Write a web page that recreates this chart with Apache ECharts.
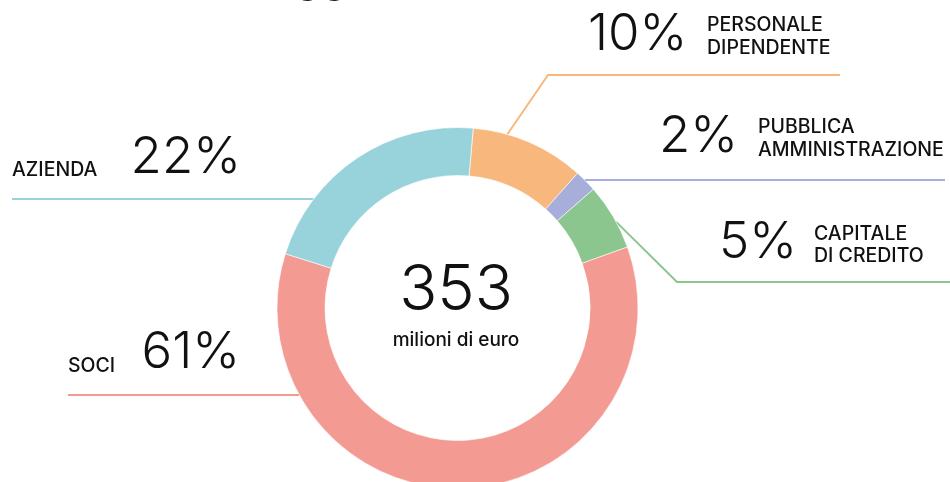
<!DOCTYPE html>
<html><head><meta charset="utf-8">
<script src="https://cdn.jsdelivr.net/npm/echarts@6/dist/echarts.min.js"></script>
<style>html,body{margin:0;padding:0;background:#fff;overflow:hidden}#c{width:950px;height:482px}</style>
</head><body><div id="c"></div>
<script>
// ---- data ----
const categories = ['PERSONALE\nDIPENDENTE', 'PUBBLICA\nAMMINISTRAZIONE', 'CAPITALE\nDI CREDITO', 'SOCI', 'AZIENDA'];
const values = [36, 7, 21, 213, 76];            // milioni di euro
const percentLabels = ['10%', '2%', '5%', '61%', '22%'];
const totalLabel = '353';
const totalUnit = 'milioni di euro';
const topLabel = '33';

// ---- style / layout ----
const colors = ['#f8b87d', '#a6aed9', '#8cc68f', '#f39a93', '#98d3dc'];
const CX = 457.5, CY = 308, R_IN = 132.5, R_OUT = 180.5;
const FONT = 'Inter';
const layouts = [
  {side: 'right', num: [588, 34.5],  cat: [707, 36.4],  lineY: 75,  startAngle: 16,   bend: [548, 75],  end: 840},
  {side: 'right', num: [659, 136.5], cat: [758, 138.8], lineY: 180, end: 945},
  {side: 'right', num: [719, 242.5], cat: [814, 245],   lineY: 282, startAngle: 61.5, bend: [677, 282], end: 960},
  {side: 'left',  num: [240, 353],   cat: [68, 366.5],  lineY: 395, end: 68},
  {side: 'left',  num: [241, 157.5], cat: [12, 170.5],  lineY: 199, end: 12}
];

function linePoints(L) {
  if (L.startAngle != null) {
    const a = L.startAngle * Math.PI / 180;
    const p0 = [CX + R_OUT * Math.sin(a), CY - R_OUT * Math.cos(a)];
    return [p0, L.bend, [L.end, L.lineY]];
  }
  const dx = Math.sqrt(R_OUT * R_OUT - (L.lineY - CY) * (L.lineY - CY));
  const x0 = L.side === 'right' ? CX + dx : CX - dx;
  const xm = (x0 + L.end) / 2;
  return [[x0, L.lineY], [xm, L.lineY], [L.end, L.lineY]];
}

const data = categories.map((c, i) => ({name: c, value: values[i], itemStyle: {color: colors[i]}}));

const chart = echarts.init(document.getElementById('c'), null, {renderer: 'canvas'});
chart.setOption({
  animation: false,
  graphic: [
    {type: 'text', x: 456, y: 291.5, style: {text: totalLabel, font: '300 63px Inter', fill: '#111', textAlign: 'center', textVerticalAlign: 'middle', verticalAlign: 'middle'}},
    {type: 'text', x: 456, y: 340.5, style: {text: totalUnit, font: '500 19px Inter', fill: '#111', textAlign: 'center', textVerticalAlign: 'middle', verticalAlign: 'middle'}},
    {type: 'text', x: 321, y: -12, style: {text: topLabel, font: '300 44px Inter', fill: '#111', textAlign: 'center', textVerticalAlign: 'middle', verticalAlign: 'middle'}}
  ],
  series: [
    {
      type: 'pie', center: [CX, CY], radius: [R_IN, R_OUT], startAngle: 85, clockwise: true,
      avoidLabelOverlap: false, silent: true,
      itemStyle: {borderColor: '#fff', borderWidth: 0.6},
      data: data,
      label: {show: true, position: 'outside', formatter: p => percentLabels[p.dataIndex],
        fontFamily: FONT, fontSize: 51, fontWeight: 300, color: '#111', lineHeight: 51},
      labelLine: {show: true, lineStyle: {width: 2}},
      labelLayout: p => {
        const L = layouts[p.dataIndex];
        return {x: L.num[0], y: L.num[1], align: L.side === 'right' ? 'left' : 'right', verticalAlign: 'middle',
          labelLinePoints: linePoints(L)};
      }
    },
    {
      type: 'pie', center: [CX, CY], radius: [R_IN, R_OUT], startAngle: 85, clockwise: true,
      avoidLabelOverlap: false, silent: true,
      itemStyle: {color: 'rgba(0,0,0,0)'},
      data: categories.map((c, i) => ({name: c, value: values[i]})),
      label: {show: true, position: 'outside', formatter: p => categories[p.dataIndex],
        fontFamily: FONT, fontSize: 19.5, fontWeight: 500, color: '#111', lineHeight: 22.5},
      labelLine: {show: false},
      labelLayout: p => {
        const L = layouts[p.dataIndex];
        return {x: L.cat[0], y: L.cat[1], align: 'left', verticalAlign: 'middle'};
      }
    }
  ]
});
</script>
</body></html>
